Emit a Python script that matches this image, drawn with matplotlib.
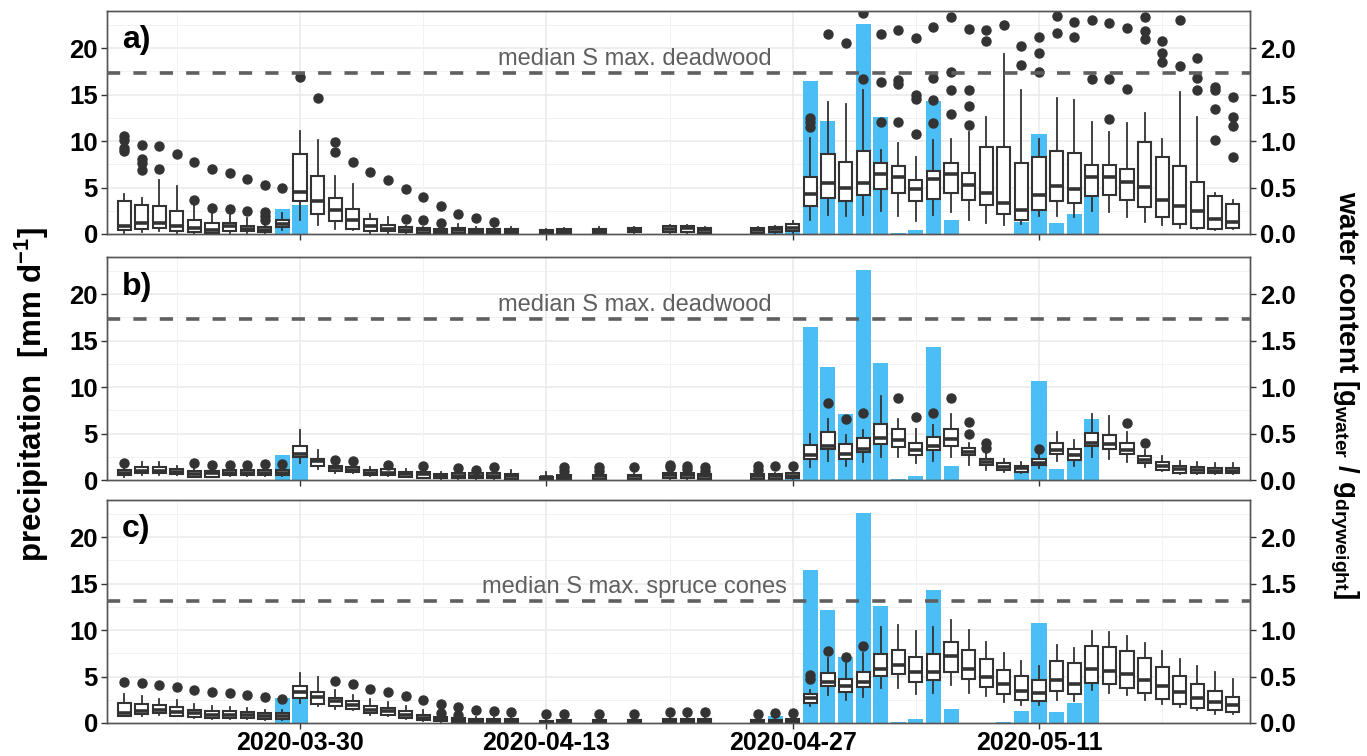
import matplotlib
matplotlib.use("Agg")
import matplotlib.pyplot as plt
import numpy as np
import pandas as pd

plt.rcParams['font.family'] = ['Liberation Sans', 'DejaVu Sans']
plt.rcParams['font.weight'] = 'bold'
plt.rcParams['mathtext.fontset'] = 'custom'
plt.rcParams['mathtext.rm'] = 'Liberation Sans:bold'
plt.rcParams['mathtext.it'] = 'Liberation Sans:bold'
plt.rcParams['mathtext.bf'] = 'Liberation Sans:bold'
plt.rcParams['lines.scale_dashes'] = False

# ---------------- data ----------------
# days with water content samples
box_dates = pd.to_datetime(
    [f"2020-03-{d:02d}" for d in range(20, 32)]
    + [f"2020-04-{d:02d}" for d in range(1, 12)]
    + ["2020-04-13", "2020-04-14", "2020-04-16", "2020-04-18", "2020-04-20",
       "2020-04-21", "2020-04-22", "2020-04-25", "2020-04-26"]
    + [f"2020-04-{d:02d}" for d in range(27, 31)]
    + [f"2020-05-{d:02d}" for d in range(1, 23)]
)

# daily precipitation [mm/d]
prec_dates = pd.to_datetime([
    "2020-03-29", "2020-03-30", "2020-04-25", "2020-04-26", "2020-04-27",
    "2020-04-28", "2020-04-29", "2020-04-30", "2020-05-01", "2020-05-02",
    "2020-05-03", "2020-05-04", "2020-05-05", "2020-05-06", "2020-05-09",
    "2020-05-10", "2020-05-11", "2020-05-12", "2020-05-13", "2020-05-14"])
prec_vals = [2.65, 3.1, 0.3, 0.8, 0.2,
             16.5, 12.2, 7.07, 22.57, 12.6,
             0.07, 0.43, 14.36, 1.5, 0.05,
             1.25, 10.71, 1.14, 2.14, 6.54]

# panel a) deadwood
a_lo = [.01, .02, .03, .01, .005, .005, .01, .01, .01, .047, .154, .1, .057, .04, .01, .01, .005, .005, .005, .005, .005, .005, .005,
        .005, .005, .005, .01, .01, .01, .01, .005, .01,
        .01, .154, .207, .189, .207, .243, .196, .136, .207, .236, .146, .118, .1, .11, .189, .189, .182, .243, .232, .182, .129, .1, .064, .054, .046, .054]
a_q1 = [.047, .054, .065, .036, .022, .011, .036, .029, .022, .072, .351, .219, .136, .057, .036, .029, .022, .011, .01, .01, .01, .01, .01,
        .01, .01, .01, .018, .018, .018, .011, .007, .018,
        .029, .304, .386, .357, .421, .482, .439, .35, .375, .446, .368, .314, .214, .154, .261, .357, .332, .411, .421, .368, .286, .182, .111, .064, .054, .064]
a_med = [.09, .118, .118, .082, .065, .047, .082, .054, .047, .111, .455, .351, .262, .154, .082, .054, .047, .04, .03, .04, .03, .03, .03,
         .03, .03, .03, .04, .054, .061, .043, .04, .05,
         .061, .432, .554, .493, .554, .643, .618, .482, .589, .646, .529, .446, .332, .254, .421, .521, .486, .611, .611, .564, .504, .368, .296, .243, .164, .125]
a_q3 = [.358, .315, .297, .244, .154, .118, .118, .09, .075, .147, .864, .62, .387, .272, .165, .1, .072, .065, .054, .061, .054, .054, .054,
        .047, .054, .054, .065, .09, .09, .065, .065, .079,
        .108, .618, .861, .779, .896, .761, .732, .582, .682, .761, .654, .932, .932, .761, .825, .896, .868, .743, .743, .7, .993, .832, .732, .564, .414, .325]
a_hi = [.43, .387, .584, .513, .323, .244, .208, .172, .12, .226, 1.104, 1.014, .627, .538, .215, .183, .09, .08, .06, .109, .07, .07, .079,
        .054, .06, .072, .079, .1, .1, .075, .075, .09,
        .136, 1.029, 1.421, 1.404, 1.546, .9, .975, .832, 1.01, 1.02, 1.1, 1.261, 1.932, 1.546, 1.018, 1.468, 1.446, 1.207, 1.093, 1.189, 1.304, 1.018, 1.529, 1.254, .446, .361]
a_out = [[1.05, 1.01, .925, .89], [.96, .81, .76, .685], [.943, .699], [.864], [.774, .369], [.703, .28], [.656, .269], [.595, .251],
         [.523, .233, .197, .154], [.495], [1.688], [1.462], [.986, .885], [.774], [.667], [.584], [.487, .165], [.398, .147],
         [.305, .115], [.215], [.168], [.125], [],
         [], [], [], [], [], [], [], [], [],
         [], [1.243, 1.207, 1.154], [2.154], [2.054], [2.375, 1.664], [2.15, 1.636, 1.2], [2.196, 1.654, 1.611, 1.207],
         [2.107, 1.493, 1.457, 1.071], [2.232, 1.682, 1.446, 1.196], [2.339, 1.743, 1.546, 1.289], [2.207, 1.546, 1.375, 1.171],
         [2.196, 2.075], [2.254], [2.018, 1.814], [2.125, 1.95, 1.743], [2.35, 2.164], [2.286, 2.125], [2.304, 1.671],
         [2.275, 1.664, 1.232], [2.214, 1.564], [2.339, 2.189, 2.093], [2.082, 1.95, 1.85], [2.304, 1.804],
         [1.896, 1.682, 1.554], [1.582, 1.554, 1.35, 1.011], [1.475, 1.254, 1.161, .825]]

# panel b) deadwood
b_lo = [.036, .05, .05, .05, .03, .03, .04, .04, .04, .04, .179, .114, .08, .08, .04, .04, .03, .02, .01, .01, .01, .01, .005,
        .005, .005, .005, .005, .01, .01, .005, .005, .005,
        .01, .143, .2, .15, .196, .25, .25, .179, .207, .243, .16, .107, .089, .079, .125, .207, .15, .243, .232, .196, .143, .096, .064, .064, .064, .064]
b_q1 = [.054, .071, .079, .064, .036, .036, .054, .054, .054, .05, .25, .15, .1, .09, .054, .054, .036, .025, .018, .018, .018, .018, .007,
        .01, .01, .011, .011, .022, .022, .011, .007, .011,
        .025, .232, .329, .232, .304, .386, .357, .268, .321, .364, .268, .161, .107, .089, .161, .279, .221, .364, .339, .279, .179, .107, .079, .079, .071, .071]
b_med = [.079, .1, .1, .086, .064, .071, .079, .079, .079, .071, .279, .204, .125, .11, .08, .08, .06, .06, .04, .04, .04, .04, .04,
         .03, .03, .04, .04, .05, .05, .04, .04, .04,
         .043, .268, .364, .279, .339, .457, .429, .321, .364, .439, .304, .196, .143, .125, .186, .321, .275, .404, .393, .321, .214, .15, .114, .107, .1, .1]
b_q3 = [.107, .136, .136, .114, .1, .1, .107, .107, .107, .107, .368, .232, .15, .143, .107, .114, .089, .089, .064, .071, .071, .071, .064,
        .036, .05, .057, .057, .072, .072, .065, .065, .065,
        .071, .375, .518, .393, .457, .6, .554, .4, .464, .554, .346, .232, .179, .15, .232, .4, .339, .507, .489, .4, .261, .189, .15, .143, .125, .125]
b_hi = [.125, .196, .196, .15, .125, .125, .125, .125, .125, .125, .536, .321, .18, .18, .143, .13, .114, .11, .089, .09, .09, .09, .108,
        .082, .07, .07, .08, .08, .08, .08, .08, .08,
        .107, .5, .66, .482, .536, .9, .661, .554, .596, .714, .4, .3, .232, .196, .29, .518, .429, .714, .686, .518, .32, .257, .207, .196, .179, .179]
b_out = [[.179], [], [], [], [.179], [.161], [.161], [.161], [.171], [.171], [], [], [.221], [.204], [], [.161], [], [.15], [],
         [.125], [.111], [.136], [],
         [], [.143, .1], [.143, .1], [.136], [.161, .136], [.154, .118], [.136, .1], [.147, .107], [.147],
         [.15], [], [.829], [.661], [.721], [], [.882], [.679], [.725], [.882], [.625, .5], [.4, .35], [], [], [.329], [], [], [], [],
         [.614], [.404], [], [], [], [], []]

# panel c) spruce cones
c_lo = [.072, .079, .09, .07, .05, .04, .04, .04, .035, .035, .215, .187, .151, .136, .09, .079, .04, .02, .01, .005, .005, .005, .005,
        .003, .003, .003, .003, .005, .005, .005, .003, .003,
        .005, .18, .299, .245, .281, .371, .371, .317, .324, .406, .324, .288, .227, .191, .191, .252, .234, .353, .324, .306, .252, .201, .173, .137, .101, .094]
c_q1 = [.079, .1, .108, .079, .065, .054, .054, .054, .047, .047, .269, .208, .18, .151, .108, .09, .054, .029, .018, .007, .007, .007, .007,
        .005, .005, .005, .005, .01, .007, .005, .005, .005,
        .011, .216, .396, .335, .388, .504, .532, .442, .46, .55, .468, .388, .309, .245, .237, .345, .317, .432, .417, .378, .324, .255, .209, .165, .137, .119]
c_med = [.108, .126, .136, .115, .108, .09, .09, .09, .079, .079, .33, .28, .233, .197, .144, .126, .09, .054, .04, .03, .025, .025, .025,
         .015, .02, .02, .02, .03, .03, .025, .025, .025,
         .029, .273, .442, .396, .442, .586, .629, .55, .55, .719, .586, .496, .417, .345, .324, .46, .424, .576, .561, .532, .46, .396, .335, .273, .227, .191]
c_q3 = [.215, .205, .197, .172, .144, .133, .126, .118, .108, .108, .395, .334, .269, .241, .187, .162, .126, .09, .065, .054, .043, .043, .043,
        .022, .029, .029, .029, .047, .043, .04, .036, .036,
        .047, .317, .54, .468, .55, .741, .784, .712, .741, .874, .784, .683, .568, .504, .46, .669, .64, .827, .82, .777, .694, .597, .504, .424, .342, .281]
c_hi = [.312, .287, .259, .251, .208, .187, .172, .162, .144, .144, .538, .495, .359, .305, .259, .223, .18, .136, .08, .065, .06, .06, .06,
        .04, .045, .045, .045, .06, .06, .055, .05, .05,
        .06, .353, .694, .647, .748, 1.036, 1.054, .989, 1.036, 1.108, 1.0, .874, .755, .665, .615, .838, .802, .989, .982, .939, .863, .777, .683, .615, .55, .478]
c_out = [[.438], [.431], [.413], [.388], [.359], [.33], [.323], [.298], [.28], [.262], [], [], [.456], [.42], [.37], [.334], [.294], [.251],
         [.208, .108], [.172, .09], [.143], [.125], [.118],
         [.093], [.093], [.093], [.093], [.118], [.118], [.115], [.1], [.107],
         [.112], [.514, .478], [.777], [.712], [.831], [], [], [], [], [], [], [], [], [], [], [], [], [], [], [], [], [], [], [], [], []]

smax_vals = [1.73, 1.73, 1.31]
smax_texts = ["median S max. deadwood", "median S max. deadwood", "median S max. spruce cones"]
panel_tags = ["a)", "b)", "c)"]

tick_dates = pd.to_datetime(["2020-03-30", "2020-04-13", "2020-04-27", "2020-05-11"])
text_date = pd.Timestamp("2020-04-18")

# ---------------- plotting ----------------
ref = pd.Timestamp("2020-03-30")
box_x = (box_dates - ref).days.values
prec_x = (prec_dates - ref).days.values
tick_x = (tick_dates - ref).days.values
text_x = (text_date - ref).days

BLUE = '#4BBEF5'
DARK = '#333333'
GRIDC = '#EBEBEB'

fig = plt.figure(figsize=(13.67, 7.56), dpi=100)
L, W = 0.0783, 0.836
bottoms = [0.6905, 0.365, 0.0437]
H = 0.295

panels = [(a_lo, a_q1, a_med, a_q3, a_hi, a_out),
          (b_lo, b_q1, b_med, b_q3, b_hi, b_out),
          (c_lo, c_q1, c_med, c_q3, c_hi, c_out)]

for i, (lo, q1, med, q3, hi, out) in enumerate(panels):
    ax = fig.add_axes([L, bottoms[i], W, H])
    ax.set_axisbelow(True)
    ax.set_xlim(-10.97, 53.98)
    ax.set_ylim(0, 24)

    # grid (ggplot theme_bw look)
    for yv in [2.5, 7.5, 12.5, 17.5, 22.5]:
        ax.axhline(yv, color='#F2F2F2', lw=0.7, zorder=0)
    for yv in [5, 10, 15, 20]:
        ax.axhline(yv, color=GRIDC, lw=1.2, zorder=0)
    for xv in [-7, 7, 21, 35, 49]:
        ax.axvline(xv, color='#F2F2F2', lw=0.7, zorder=0)
    for xv in tick_x:
        ax.axvline(xv, color=GRIDC, lw=1.2, zorder=0)

    ax.bar(prec_x, prec_vals, width=0.86, color=BLUE, zorder=2)

    ax2 = ax.twinx()
    ax2.set_ylim(0, 2.4)
    ax2.set_xlim(-10.97, 53.98)
    stats = [dict(whislo=lo[k], q1=q1[k], med=med[k], q3=q3[k], whishi=hi[k], fliers=out[k])
             for k in range(len(box_x))]
    ax2.bxp(stats, positions=box_x, widths=0.75, patch_artist=True, showcaps=False,
            manage_ticks=False,
            boxprops=dict(facecolor='white', edgecolor=DARK, linewidth=1.5),
            medianprops=dict(color=DARK, linewidth=2.6),
            whiskerprops=dict(color=DARK, linewidth=1.3),
            flierprops=dict(marker='o', markerfacecolor=DARK, markeredgecolor=DARK, markersize=6.5))

    ax2.axhline(smax_vals[i], color='#5F5F5F', lw=2.6, dashes=(9.5, 9.5), zorder=5)
    ax2.text(text_x, smax_vals[i] + 0.085, smax_texts[i], ha='center', va='baseline',
             fontsize=17, fontweight='normal', color='#5F5F5F')
    ax.text(0.013, 0.935, panel_tags[i], transform=ax.transAxes, ha='left', va='top',
            fontsize=23, fontweight='bold', color='black', zorder=6)

    ax.set_yticks([0, 5, 10, 15, 20])
    ax2.set_yticks([0, 0.5, 1.0, 1.5, 2.0])
    ax2.set_yticklabels(['0.0', '0.5', '1.0', '1.5', '2.0'])
    ax.set_xticks(tick_x)
    if i == 2:
        ax.set_xticklabels([d.strftime('%Y-%m-%d') for d in tick_dates])
    else:
        ax.set_xticklabels([])
    for a in (ax, ax2):
        a.tick_params(axis='both', length=4.5, width=1.0, color=DARK, labelsize=18.5,
                      labelcolor='black')
        for sp in a.spines.values():
            sp.set_color('#555555')
            sp.set_linewidth(1.0)
    ax.tick_params(axis='y', pad=2)
    ax.tick_params(axis='x', pad=1.5, labelsize=18)
    ax2.tick_params(axis='y', pad=3)

fig.text(0.023, 1 - 394 / 756, r"precipitation  [mm d$^{-1}$]", rotation=90,
         ha='center', va='center', fontsize=22.5, fontweight='bold')
fig.text(0.983, 1 - 395 / 756, r"water content [g$_{\mathrm{water}}$ / g$_{\mathrm{dryweight}}$]",
         rotation=-90, ha='center', va='center', fontsize=20, fontweight='bold')

fig.savefig("out.png", dpi=100)
